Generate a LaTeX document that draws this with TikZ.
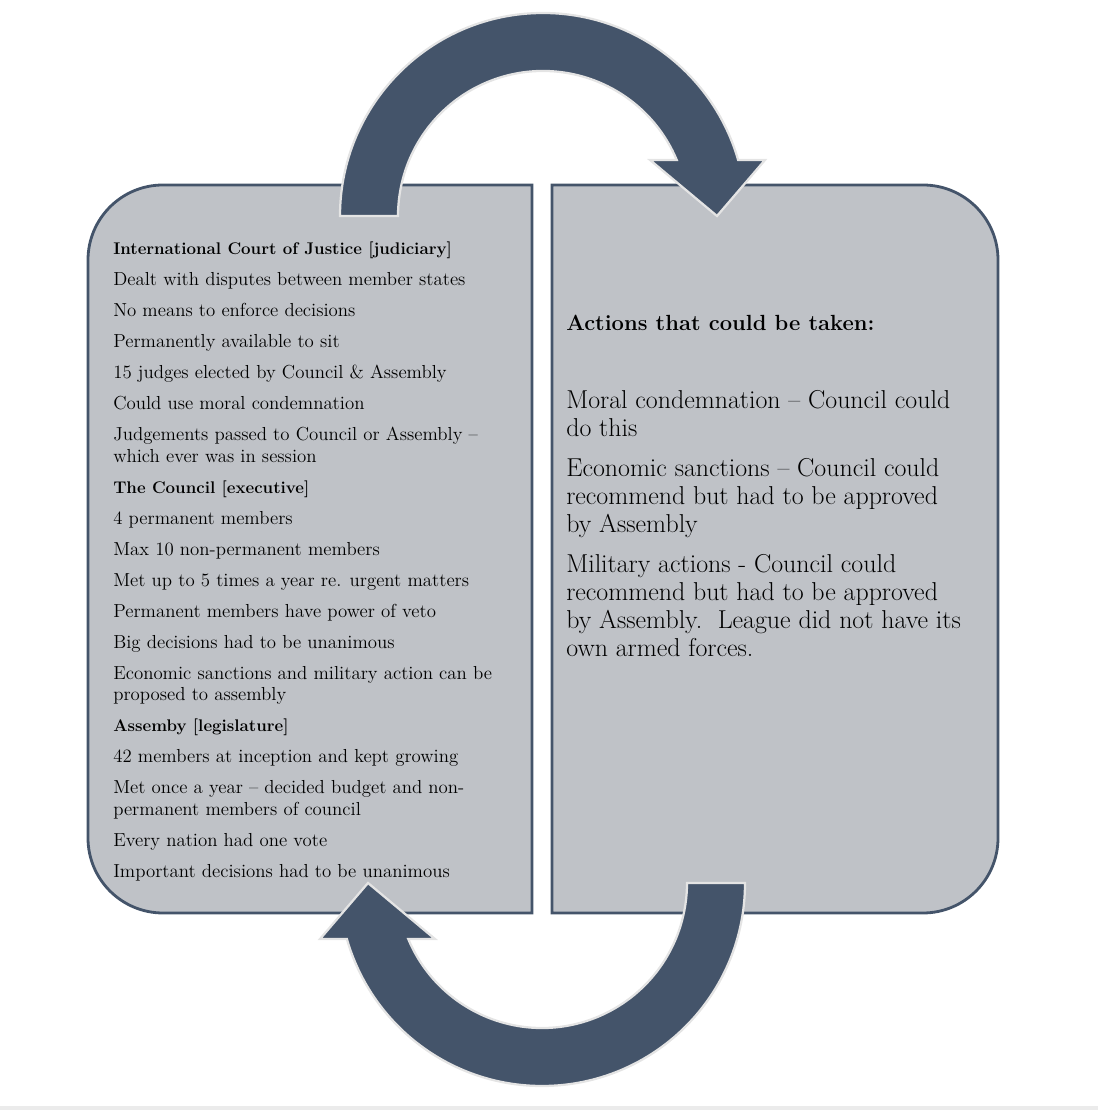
\documentclass[tikz,border=0pt]{standalone}
\usetikzlibrary{positioning}
\definecolor{slate}{HTML}{44546A}
\definecolor{panelgray}{HTML}{BFC2C7}
\definecolor{rim}{HTML}{E4E4E4}

% curved band with head, drawn about its centre
\newcommand{\loopband}{%
  \draw[band] (180:203) arc[start angle=180,end angle=16,radius=203]
    -- (222,56) -- (174,0) -- (107,56) -- (22.7:145)
    arc[start angle=22.7,end angle=180,radius=145] -- cycle;}
\newcommand{\lefthead}[1]{{\fontsize{12}{15.6}\selectfont\bfseries #1}}

\begin{document}
\begin{tikzpicture}[x=0.025cm,y=0.025cm,
  panel/.style={draw=slate,line width=2pt,fill=panelgray},
  band/.style={fill=slate,draw=rim,line width=1.6pt,line join=miter},
  txt/.style={anchor=north west,inner sep=0pt,align=left}]
  \useasboundingbox (0,0) rectangle (1098,1110);
  \fill[black!8] (0,0) rectangle (1098,4);
  % ---------- panels
  \draw[panel] (532,197) -- (532,925) -- (163,925)
    arc[start angle=90,end angle=180,radius=75] -- (88,272)
    arc[start angle=180,end angle=270,radius=75] -- cycle;
  \draw[panel] (552,197) -- (552,925) -- (923,925)
    arc[start angle=90,end angle=0,radius=75] -- (998,272)
    arc[start angle=0,end angle=-90,radius=75] -- cycle;
  % ---------- left text
  \node[txt,font=\fontsize{13.4}{15.6}\selectfont] (organs) at (113,868) {%
    \lefthead{International Court of Justice [judiciary]}\\[6.4pt]
    Dealt with disputes between member states\\[6.4pt]
    No means to enforce decisions\\[6.4pt]
    Permanently available to sit\\[6.4pt]
    15 judges elected by Council \& Assembly\\[6.4pt]
    Could use moral condemnation\\[6.4pt]
    Judgements passed to Council or Assembly \textendash\\
    which ever was in session\\[6.4pt]
    \lefthead{The Council [executive]}\\[6.4pt]
    4 permanent members\\[6.4pt]
    Max 10 non-permanent members\\[6.4pt]
    Met up to 5 times a year re. urgent matters\\[6.4pt]
    Permanent members have power of veto\\[6.4pt]
    Big decisions had to be unanimous\\[6.4pt]
    Economic sanctions and military action can be\\
    proposed to assembly\\[6.4pt]
    \lefthead{Assemby [legislature]}\\[6.4pt]
    42 members at inception and kept growing\\[6.4pt]
    Met once a year \textendash{} decided budget and non-\\
    permanent members of council\\[6.4pt]
    Every nation had one vote\\[6.4pt]
    Important decisions had to be unanimous};
  % ---------- right text
  \node[txt,font=\fontsize{18.4}{19.9}\selectfont] (actions) at (566,795) {%
    {\fontsize{15.6}{19.9}\selectfont\bfseries Actions that could be taken:}\\[35.6pt]
    Moral condemnation \textendash{} Council could\\
    do this\\[8.5pt]
    Economic sanctions \textendash{} Council could\\
    recommend but had to be approved\\
    by Assembly\\[8.5pt]
    Military actions - Council could\\
    recommend but had to be approved\\
    by Assembly.\ \ League did not have its\\
    own armed forces.};
  % ---------- arrows
  \begin{scope}[shift={(543,894)}]
    \loopband
  \end{scope}
  \begin{scope}[shift={(542,227)},rotate=180]
    \loopband
  \end{scope}
\end{tikzpicture}
\end{document}
